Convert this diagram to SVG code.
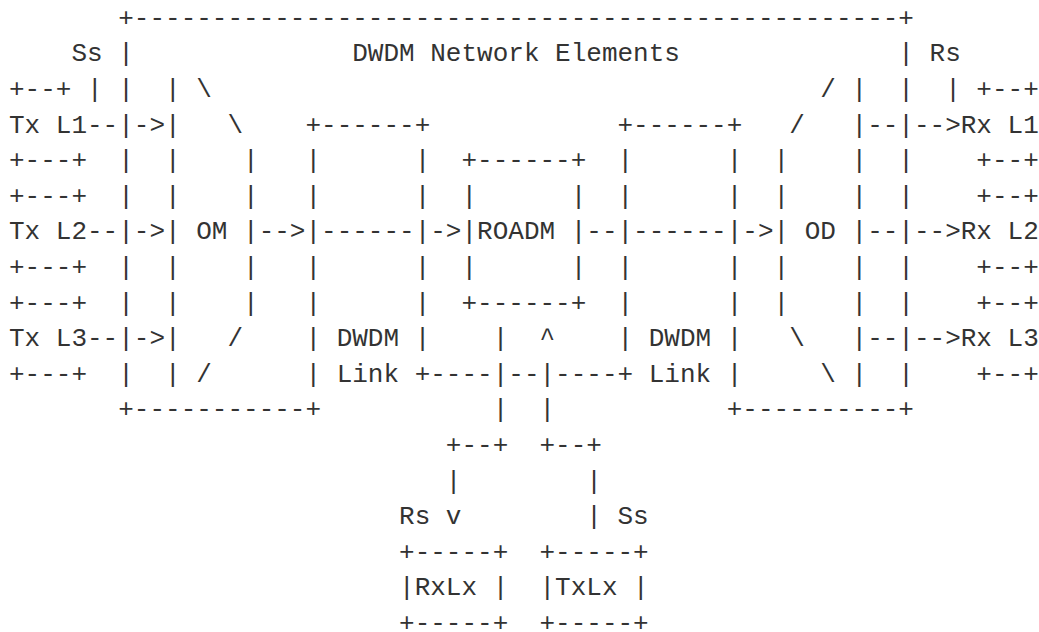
<svg xmlns="http://www.w3.org/2000/svg" width="1039" height="632" viewBox="0 0 1039 632">
<style>
.t{font-family:"Liberation Mono","DejaVu Sans Mono",monospace;font-size:26px;fill:#333333;white-space:pre}
</style>
<rect width="1039" height="632" fill="#ffffff"/>
<g id="ascii-figure" xml:space="preserve">
<text class="t" x="9" y="25.7">       +-------------------------------------------------+</text>
<text class="t" x="9" y="61.3">    Ss |              DWDM Network Elements              | Rs</text>
<text class="t" x="9" y="96.9">+--+ | |  | \                                       / |  |  | +--+</text>
<text class="t" x="9" y="132.5">Tx L1--|->|   \    +------+            +------+   /   |--|-->Rx L1</text>
<text class="t" x="9" y="168.1">+---+  |  |    |   |      |  +------+  |      |  |    |  |    +--+</text>
<text class="t" x="9" y="203.7">+---+  |  |    |   |      |  |      |  |      |  |    |  |    +--+</text>
<text class="t" x="9" y="239.3">Tx L2--|->| OM |-->|------|->|ROADM |--|------|->| OD |--|-->Rx L2</text>
<text class="t" x="9" y="274.9">+---+  |  |    |   |      |  |      |  |      |  |    |  |    +--+</text>
<text class="t" x="9" y="310.5">+---+  |  |    |   |      |  +------+  |      |  |    |  |    +--+</text>
<text class="t" x="9" y="346.1">Tx L3--|->|   /    | DWDM |    |  ^    | DWDM |   \   |--|-->Rx L3</text>
<text class="t" x="9" y="381.7">+---+  |  | /      | Link +----|--|----+ Link |     \ |  |    +--+</text>
<text class="t" x="9" y="417.3">       +-----------+           |  |           +----------+</text>
<text class="t" x="9" y="452.9">                            +--+  +--+</text>
<text class="t" x="9" y="488.5">                            |        |</text>
<text class="t" x="9" y="524.1">                         Rs v        | Ss</text>
<text class="t" x="9" y="559.7">                         +-----+  +-----+</text>
<text class="t" x="9" y="595.3">                         |RxLx |  |TxLx |</text>
<text class="t" x="9" y="630.9">                         +-----+  +-----+</text>
</g>
</svg>
